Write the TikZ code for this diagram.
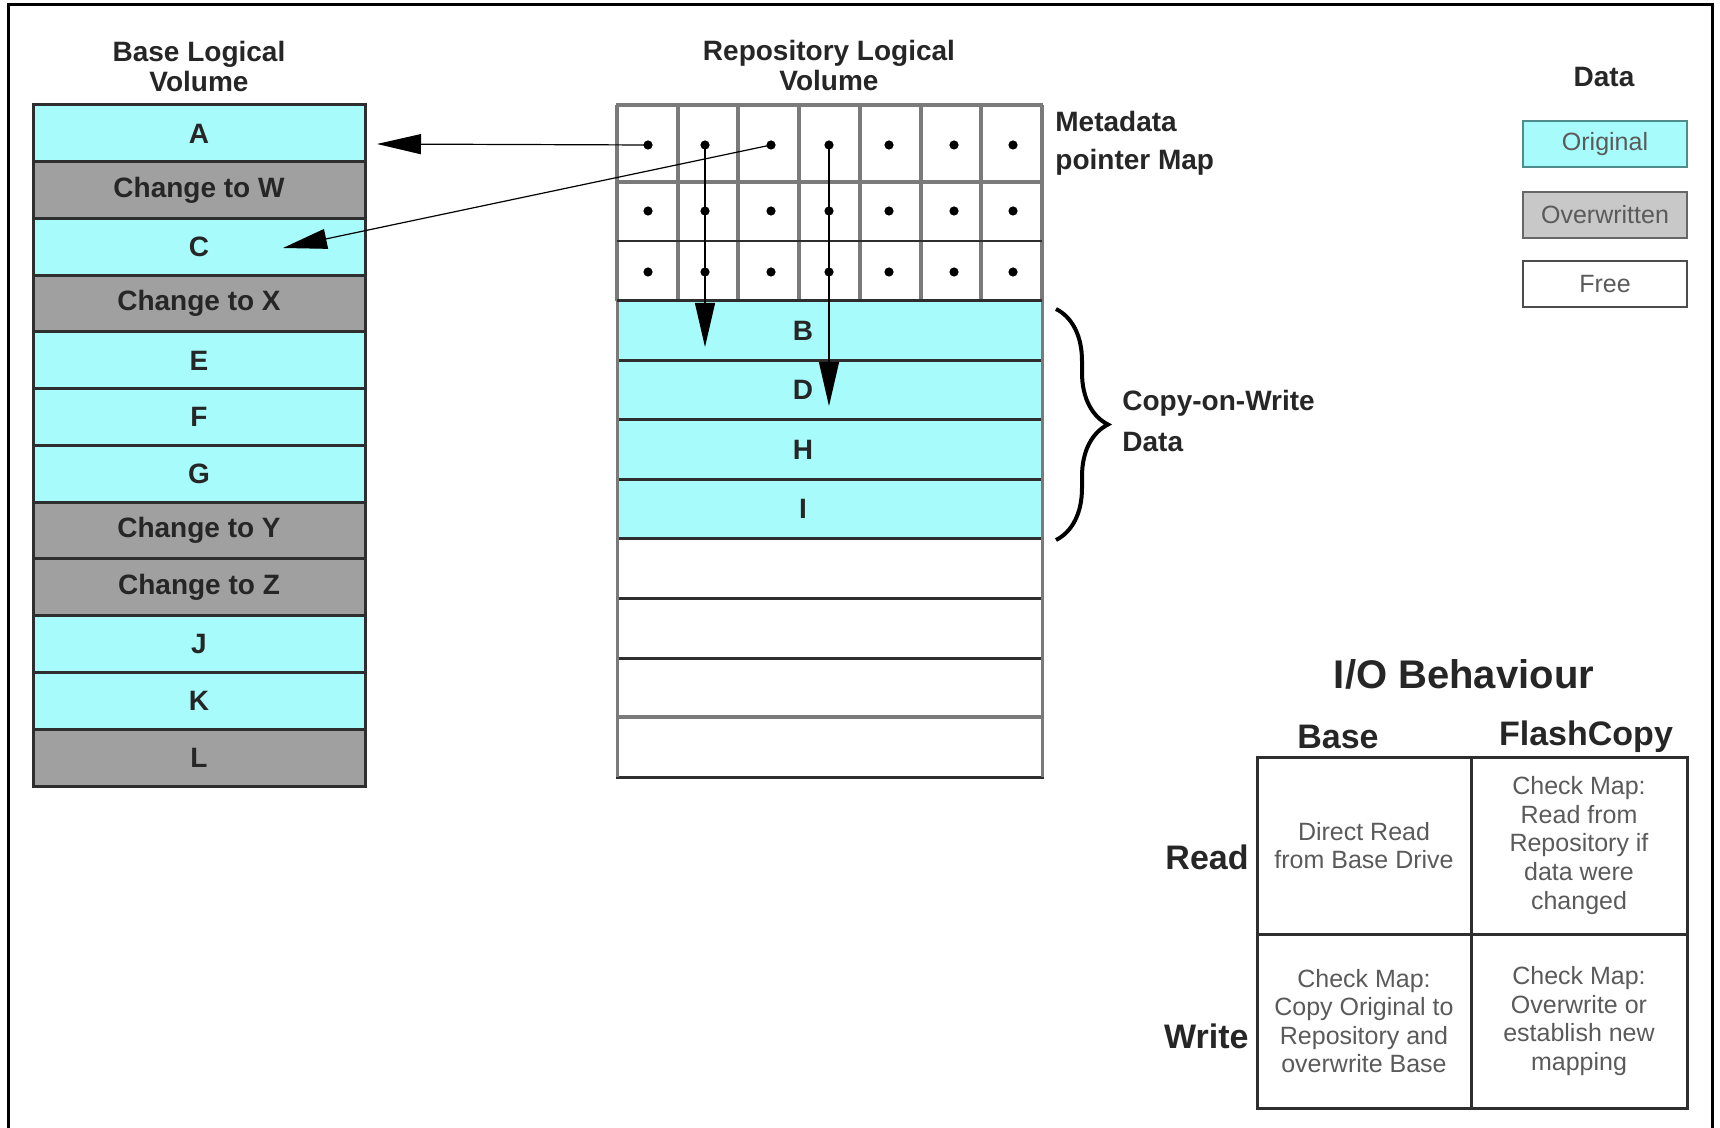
\documentclass[tikz,border=0pt]{standalone}
\usepackage{fontspec}
\setmainfont{Liberation Sans}
\usetikzlibrary{arrows.meta,decorations.pathreplacing,calc}
\definecolor{cy}{HTML}{A8FBFB}
\definecolor{ow}{HTML}{A0A0A0}
\definecolor{owl}{HTML}{C8C8C8}
\definecolor{bd}{HTML}{2E2E2E}
\definecolor{gl}{HTML}{7A7A7A}
\definecolor{tx}{HTML}{5A5A5A}
\definecolor{teb}{HTML}{4F8C8C}
\begin{document}
\begin{tikzpicture}[x=0.5pt,y=-0.5pt,
  bold14/.style={font=\fontsize{14}{15}\selectfont\bfseries, text=black!85},
  lrow/.style={draw=bd, line width=1.5pt, minimum width=166pt, minimum height=28.375pt, inner sep=0pt, bold14},
  rrow/.style={draw=bd, line width=1.5pt, minimum width=212.5pt, minimum height=29.75pt, inner sep=0pt},
  dot/.style={circle, fill=black, inner sep=0pt, minimum size=4.6pt},
  ptr/.style={line width=0.6pt, -{Triangle[length=22pt,width=10pt]}},
  leg/.style={minimum width=82pt, minimum height=23pt, line width=1pt, inner sep=0pt, font=\fontsize{12.5}{14}\selectfont, text=tx},
  hdr/.style={font=\fontsize{17}{20}\selectfont\bfseries, text=black!85, inner sep=0pt},
  cellx/.style={draw=bd, line width=1.5pt, align=center, inner sep=0pt, font=\fontsize{12.5}{14.3}\selectfont, text=tx}
]
\useasboundingbox (0,0) rectangle (1720,1128);
% outer frame
\draw[line width=1.5pt] (8,1130) -- (8,5) -- (1712,5) -- (1712,1130);

% base logical volume
\node[bold14, align=center] (tbase) at (199,66) {Base Logical\\Volume};
\foreach \lab/\fc [count=\i from 0] in {A/cy,Change to W/ow,C/cy,Change to X/ow,E/cy,F/cy,G/cy,Change to Y/ow,Change to Z/ow,J/cy,K/cy,L/ow}
  \node[lrow, fill=\fc] (b\i) at (199, {133.375+56.75*\i}) {\lab};

% repository logical volume
\node[bold14, align=center] (trep) at (829,65) {Repository Logical\\Volume};
\foreach \fc [count=\i from 0] in {cy,cy,cy,cy,white,white,white,white}
  \node[rrow, fill=\fc] (r\i) at (829.5, {330.75+59.5*\i}) {};
\foreach \lab [count=\i from 0] in {B,D,H,I}
  \node[bold14, inner sep=0pt] (rl\i) at (803, {330.75+59.5*\i}) {\lab};
\draw[gl, line width=1.5pt] (617,301) -- (617,777) (1042,301) -- (1042,777);
\draw[gl, line width=1.8pt] (617,717) -- (1042,717);
% metadata grid
\foreach \k in {0,...,7}
  \draw[gl, line width=2pt] ({617+60.714*\k},105) -- ({617+60.714*\k},301);
\draw[gl, line width=2pt] (616,105) -- (1043,105) (617,182) -- (1042,182);
\draw[bd, line width=1.2pt] (617,241) -- (1042,241);
\draw[bd, line width=1.5pt] (617,301) -- (1042,301);
\foreach \c/\x in {1/648,2/705,3/771,4/829,5/889,6/954,7/1013}
  \foreach \r/\y in {1/145,2/211,3/272}
    \node[dot] (d\r\c) at (\x,\y) {};

% pointers
\coordinate (tA) at (377,144);
\coordinate (tC) at (283,248);
\coordinate (tB) at (705,347);
\coordinate (tD) at (829,406);
\draw[ptr] (d11.center) -- (tA);
\draw[ptr] (d13.center) -- (tC);
\draw[ptr] (d12.center) -- (tB);
\draw[ptr] (d14.center) -- (tD);

\node[font=\fontsize{14}{19}\selectfont\bfseries, text=black!85, align=left, anchor=west, inner sep=0pt] (tmeta) at (1055,143) {Metadata\\pointer Map};

% brace
\draw[line width=2pt, decorate, decoration={brace, amplitude=26pt}] (1056,309) -- (1056,540);
\node[font=\fontsize{14}{20.5}\selectfont\bfseries, text=black!85, align=left, anchor=west, inner sep=0pt] (tcow) at (1122,421) {Copy-on-Write\\Data};

% legend
\node[bold14] (tdata) at (1604,77) {Data};
\node[leg, draw=teb, fill=cy] (lo) at (1605,144) {Original};
\node[leg, draw=black!60, fill=owl] (lw) at (1605,215) {Overwritten};
\node[leg, draw=black!70, fill=white] (lf) at (1605,284) {Free};

% I/O behaviour
\node[font=\fontsize{20}{24}\selectfont\bfseries, text=black!85] (tio) at (1464,674) {I/O Behaviour};
\node[hdr] (hbase) at (1338,737) {Base};
\node[hdr] (hfc) at (1586,737) {FlashCopy};
\node[hdr, anchor=east] (lread) at (1249,857) {Read};
\node[hdr, anchor=east] (lwrite) at (1249,1036) {Write};
\node[cellx, minimum width=107pt, minimum height=88.5pt] (c11) at (1364,845.5) {Direct Read\\from Base Drive};
\node[cellx, minimum width=108pt, minimum height=88.5pt] (c12) at (1579,845.5) {Check Map:\\Read from\\Repository if\\data were\\changed};
\node[cellx, minimum width=107pt, minimum height=87pt] (c21) at (1364,1021) {Check Map:\\Copy Original to\\Repository and\\overwrite Base};
\node[cellx, minimum width=108pt, minimum height=87pt] (c22) at (1579,1021) {Check Map:\\Overwrite or\\establish new\\mapping};
\end{tikzpicture}
\end{document}
